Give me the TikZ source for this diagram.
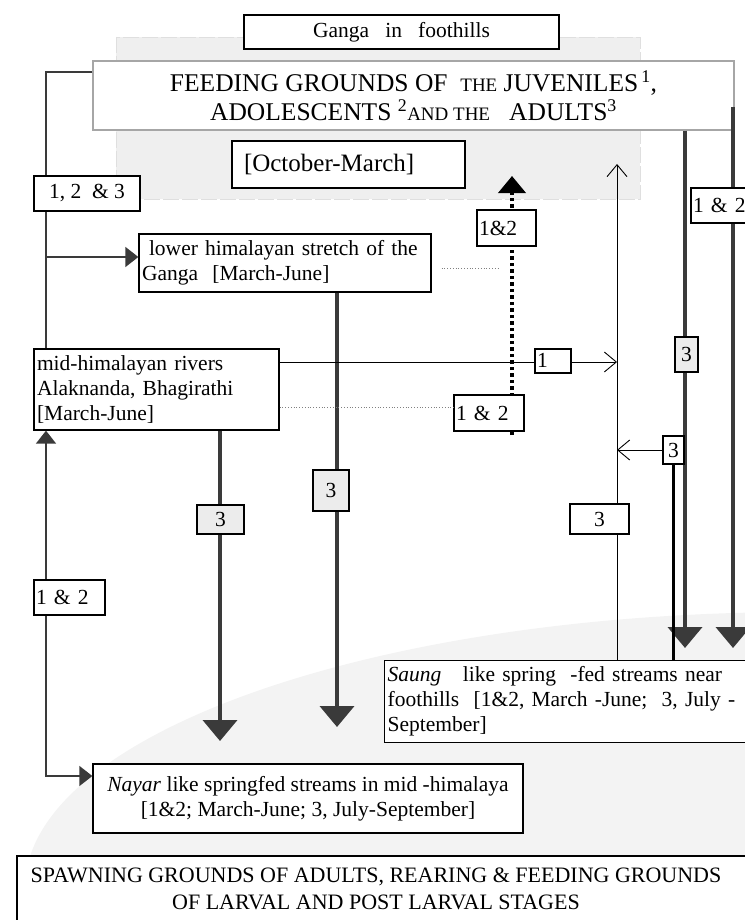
\documentclass[tikz,border=0pt]{standalone}
\usepackage{fontspec}
\setmainfont{Liberation Serif}
\usepackage{tikz}
\usetikzlibrary{positioning, arrows.meta, calc}

\definecolor{darkline}{RGB}{58,58,58}
\definecolor{boxgray}{RGB}{236,236,236}
\definecolor{zonegray}{RGB}{239,239,239}
\definecolor{hillgray}{RGB}{243,243,243}
\newcommand{\bodysize}{\fontsize{21.5}{25}\selectfont}
\newcommand{\minorcaps}{\fontsize{19}{29}\selectfont}

\begin{document}
\begin{tikzpicture}[
    x=1pt, y=-1pt,
    every node/.style = {font=\bodysize, inner sep=3pt},
    box/.style = {draw, fill=white, line width=1.3pt},
    lbl/.style = {draw, fill=white, line width=1.2pt, inner sep=2pt},
    graylbl/.style = {lbl, fill=boxgray},
    link/.style = {draw=darkline, line width=1.4pt},
    flow/.style = {draw=darkline, line width=4pt, -{Triangle[width=34pt,length=21pt]}},
    barb/.style = {line width=0.9pt, -{Straight Barb[length=12pt,width=20pt]}},
    hint/.style = {draw=gray, line width=0.8pt, dotted}
]
\useasboundingbox (0,0) rectangle (744,920);

% background zones
\fill[hillgray] (800,888) ellipse [x radius=775pt, y radius=276pt];
\draw[fill=zonegray, draw=gray!25, line width=0.8pt, dash pattern=on 16pt off 3pt] (116,37) rectangle (640,199);

% grounds
\node[box, minimum width=315, minimum height=34] (ganga) at (401.5,32) {Ganga\ \ \ in\ \ \ foothills};
\node[box, draw=gray!70, minimum width=641, minimum height=69, align=center,
      font=\fontsize{25.5}{29}\selectfont] (feed) at (413.5,95.5)
    {FEEDING GROUNDS OF\ \ {\minorcaps THE} JUVENILES\textsuperscript{\,1},\\
     ADOLESCENTS \textsuperscript{2}{\minorcaps AND THE}\ \ \ ADULTS\textsuperscript{3}};
\node[box, minimum height=47, text width=227, align=left,
      font=\fontsize{25}{29}\selectfont] (octmar) at (348.5,164.5) {\hspace*{9pt}[October-March]};
\node[box, minimum height=58, text width=286, align=left] (lower) at (285,263)
    {\hspace*{7pt}lower himalayan stretch of the\\Ganga\ \ [March-June]};
\node[box, minimum height=81, text width=239, align=left] (mid) at (156.5,389.5)
    {mid-himalayan rivers\\Alaknanda, Bhagirathi\\{[}March-June{]}};
\node[box, minimum width=430, minimum height=69, align=center] (nayar) at (308,798.5)
    {\textit{Nayar} like springfed streams in mid\ -himalaya\\{[}1\&2; March-June; 3, July-September{]}};
\node[box, anchor=north west, minimum height=82, text width=400, align=left] (saung) at (384,660)
    {\textit{Saung}\ \ \ like spring\ \ -fed streams near\\foothills\ \ [1\&2, March -June;\ \ 3, July -\\September]};
\draw[line width=1.3pt, fill=white] (17,856) rectangle (770,940);
\node[align=center, font=\fontsize{22}{27}\selectfont] (spawn) at (376,889)
    {SPAWNING GROUNDS OF ADULTS, REARING \& FEEDING GROUNDS\\OF LARVAL AND POST LARVAL STAGES};

% movements on the left
\coordinate (trunk) at (46,72);
\coordinate (lowin) at ([yshift=6pt]lower.west);
\coordinate (nayin) at ([yshift=22.5pt]nayar.west);
\draw[link] (feed.west |- trunk) -- (trunk) -- (trunk |- mid.north);
\draw[link, -{Triangle[width=20pt,length=13pt]}] (trunk |- lowin) -- (lowin);
\draw[link, {Triangle[width=20pt,length=13pt]}-{Triangle[width=20pt,length=13pt]}] (trunk |- mid.south) |- (nayin);

% downstream flows
\coordinate (midend) at (220,741);
\coordinate (lowend) at (337,727);
\coordinate (adultend) at (685,648);
\coordinate (youngend) at (733,648);
\coordinate (feedside) at ([yshift=-11.5pt]feed.east);
\draw[flow] (mid.south -| midend) -- (midend);
\draw[flow] (lower.south -| lowend) -- (lowend);
\draw[flow] (feed.south -| adultend) -- (adultend);
\draw[flow] (feedside -| youngend) -- (youngend);

% return to the foothills
\coordinate (upend) at (617,164);
\coordinate (midout) at ([yshift=27.5pt]mid.east);
\draw[barb] (saung.north -| upend) -- (upend);
\draw[barb] (midout) -- (midout -| upend);

\coordinate (risebot) at (512,435);
\coordinate (risetop) at (512,176);
\draw[line width=4pt, dash pattern=on 3.5pt off 3pt, -{Triangle[width=27pt,length=17pt]}] (risebot) -- (risetop);

\node[lbl, minimum width=21, minimum height=28] (lab3b) at (673.5,450) {3};
\draw[line width=2.2pt] (saung.north -| lab3b) -- (lab3b.south);
\draw[barb] (lab3b.west) -- (lab3b.west -| upend);

% labels
\node[lbl, minimum width=106, minimum height=35] (lab123) at (87,193.5) {1, 2\ \ \& 3};
\node[lbl, minimum height=36, text width=55, align=left] (lab12top) at (506.5,228) {1\&2};
\node[lbl, minimum height=36, text width=66, align=left] (lab12dot) at (489,413) {1 \& 2};
\node[lbl, minimum height=35, text width=67, align=left] (lab12left) at (69.5,597.5) {1 \& 2};
\node[lbl, minimum height=35, text width=59, align=left] (lab12right) at (722.5,205.5) {1 \& 2};
\node[lbl, minimum width=36, minimum height=24, inner sep=0pt] (lab1) at (553,361)
    {\makebox[32pt][l]{\smash{\raisebox{-6pt}{1}}}};
\node[graylbl, minimum width=23, minimum height=35] (lab3a) at (686.5,354.5) {3};
\node[lbl, minimum width=59, minimum height=30] (lab3c) at (599.5,519) {3};
\node[graylbl, minimum width=47, minimum height=29] (lab3d) at (220.5,519.5) {3};
\node[graylbl, minimum width=36, minimum height=41] (lab3e) at (331,490.5) {3};

\draw[hint] ([yshift=6pt]mid.east |- lab12dot.west) -- ([yshift=6pt]lab12dot.west);
\coordinate (dotend) at (500,268);
\draw[hint] ([xshift=10pt,yshift=-5pt]lower.east) -- (dotend);

\end{tikzpicture}
\end{document}
